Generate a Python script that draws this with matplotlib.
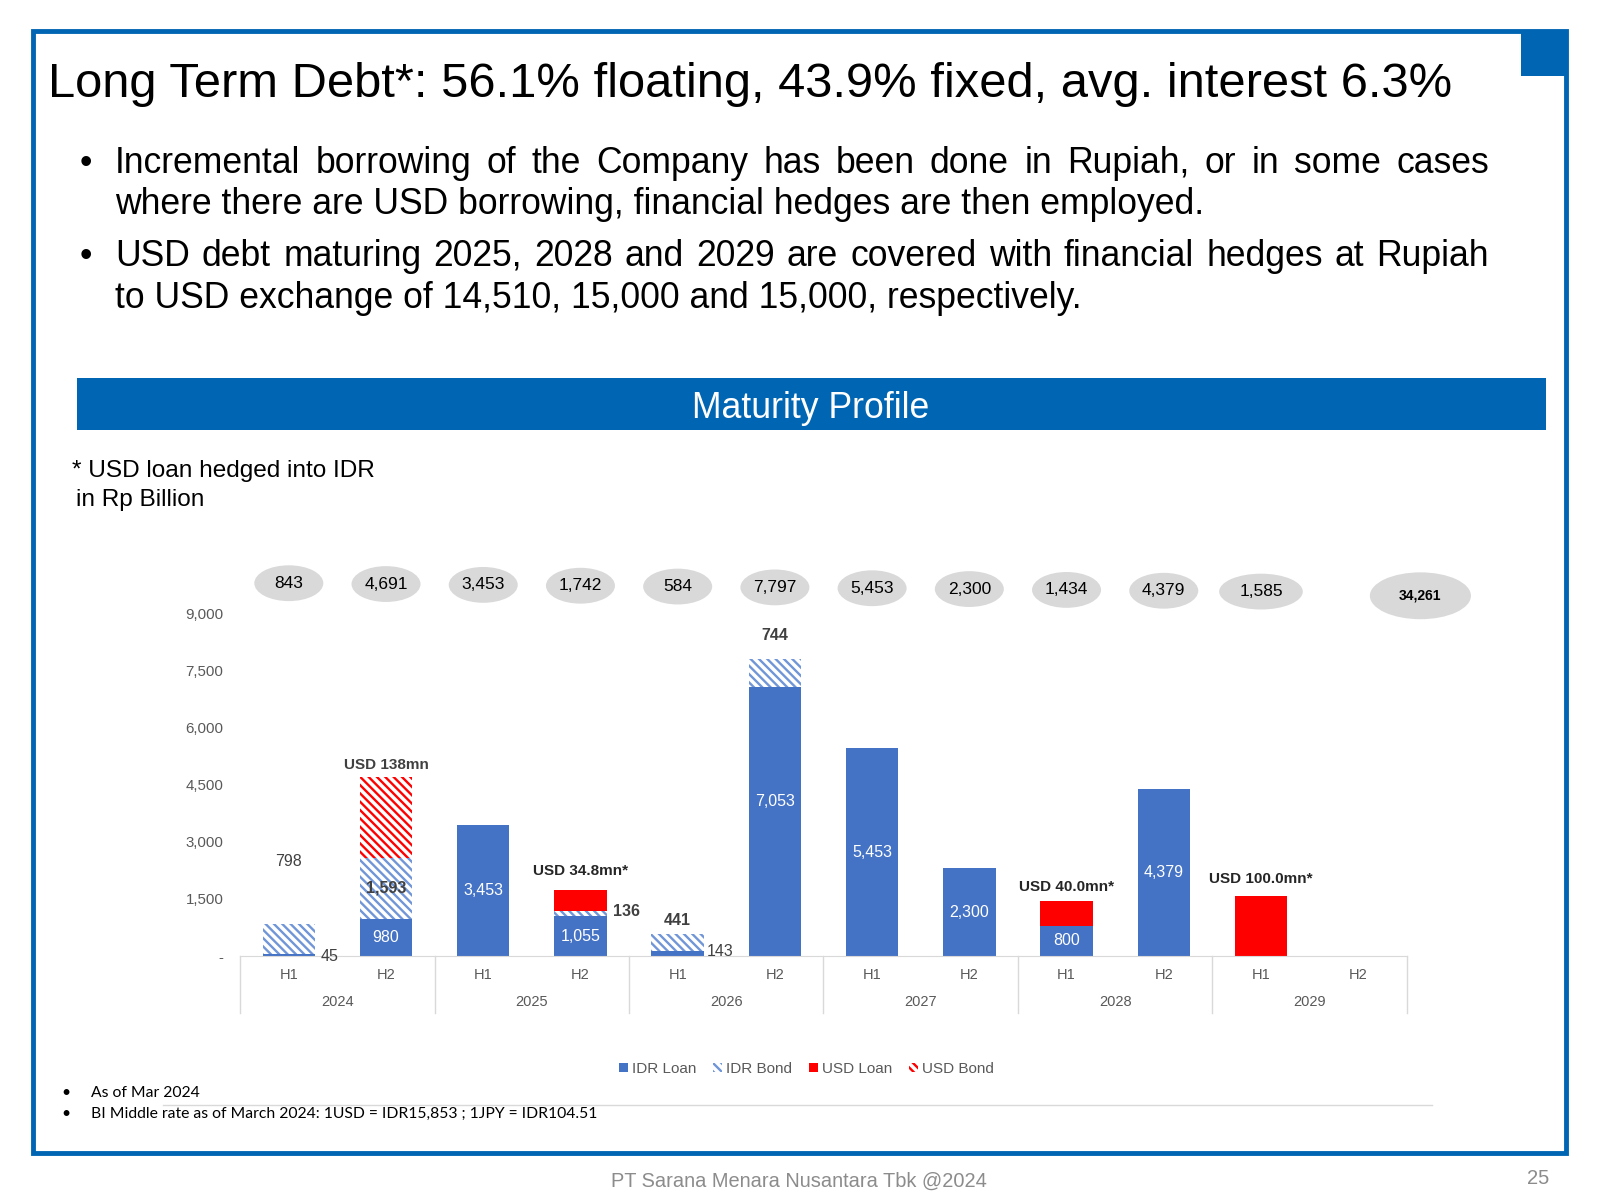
import numpy as np
import matplotlib.pyplot as plt
import matplotlib.transforms as mtransforms
from matplotlib.patches import Rectangle, Ellipse, Patch

plt.rcParams['font.family'] = ['Liberation Sans', 'DejaVu Sans']
plt.rcParams['hatch.linewidth'] = 1.7

# data (Rp billion)
years = ['2024', '2025', '2026', '2027', '2028', '2029']
halves = ['H1', 'H2']
idr_loan = [45, 980, 3453, 1055, 143, 7053, 5453, 2300, 800, 4379, 0, 0]
idr_bond = [798, 1593, 0, 136, 441, 744, 0, 0, 0, 0, 0, 0]
usd_loan = [0, 0, 0, 551, 0, 0, 0, 0, 634, 0, 1585, 0]
usd_bond = [0, 2118, 0, 0, 0, 0, 0, 0, 0, 0, 0, 0]
usd_notes = {1: 'USD 138mn', 3: 'USD 34.8mn*', 8: 'USD 40.0mn*', 10: 'USD 100.0mn*'}
yticks = [0, 1500, 3000, 4500, 6000, 7500, 9000]

title = 'Long Term Debt*: 56.1% floating, 43.9% fixed, avg. interest 6.3%'
bullets = [
    ['Incremental borrowing of the Company has been done in Rupiah, or in some cases',
     'where there are USD borrowing, financial hedges are then employed.'],
    ['USD debt maturing 2025, 2028 and 2029 are covered with financial hedges at Rupiah',
     'to USD exchange of 14,510, 15,000 and 15,000, respectively.'],
]
notes = ['As of Mar 2024',
         'BI Middle rate as of March 2024: 1USD = IDR15,853 ; 1JPY = IDR104.51']

BLUE = '#0066B3'
LOAN = '#4472C4'
BOND = '#7096D8'
RED = '#FF0000'
GREY = '#595959'
HATCH = '\\\\\\\\'

W, H = 1600, 1200
fig = plt.figure(figsize=(16, 12), dpi=100)


def fx(px):
    return px / W


def fy(py):
    return 1 - py / H


def justify(line, x0, x1, y, **kw):
    words = line.split()
    r = fig.canvas.get_renderer()
    objs = [fig.text(0, fy(y), w, va='baseline', **kw) for w in words]
    ws = [o.get_window_extent(r).width for o in objs]
    gap = (x1 - x0 - sum(ws)) / (len(words) - 1)
    pos = x0
    for o, w in zip(objs, ws):
        o.set_x(fx(pos))
        pos += w + gap


# slide frame
fig.patches.append(Rectangle((fx(33), fy(1153)), fx(1566) - fx(33), (1153 - 31) / H,
                             transform=fig.transFigure, fill=False, ec=BLUE, lw=3.5))
fig.patches.append(Rectangle((fx(1521), fy(76)), fx(45), 45 / H,
                             transform=fig.transFigure, color=BLUE, lw=0))

fig.text(fx(48), fy(97), title, fontsize=35.2, va='baseline')

ys = [173, 214, 266, 308]
k = 0
for para in bullets:
    fig.text(fx(80), fy(ys[k]), '•', fontsize=25.6, va='baseline')
    justify(para[0], 115, 1489, ys[k], fontsize=25.6)
    fig.text(fx(115), fy(ys[k + 1]), para[1], fontsize=25.6, va='baseline')
    k += 2

# banner
fig.patches.append(Rectangle((fx(77), fy(430)), fx(1546) - fx(77), 52 / H,
                             transform=fig.transFigure, color=BLUE, lw=0))
fig.text(fx(811), fy(408), 'Maturity Profile', fontsize=25.7, color='white',
         ha='center', va='center')

fig.text(fx(72), fy(471), '* USD loan hedged into IDR', fontsize=17.6, va='center')
fig.text(fx(76), fy(500), 'in Rp Billion', fontsize=17.6, va='center')

# chart
ax = fig.add_axes([fx(240.2), fy(956.1), fx(1406.8) - fx(240.2), (956.1 - 613.3) / H])
x = np.arange(len(idr_loan))
bw = 0.54
b1 = np.array(idr_loan)
b2 = b1 + np.array(idr_bond)
b3 = b2 + np.array(usd_loan)
total = b3 + np.array(usd_bond)

ax.bar(x, idr_loan, bw, color=LOAN, lw=0)
ax.bar(x, idr_bond, bw, bottom=b1, color='white', edgecolor=BOND, hatch=HATCH, lw=0)
ax.bar(x, usd_loan, bw, bottom=b2, color=RED, lw=0)
ax.bar(x, usd_bond, bw, bottom=b3, color='white', edgecolor=RED, hatch=HATCH, lw=0)

ax.set_xlim(-0.5, len(x) - 0.5)
ax.set_ylim(0, 9000)
ax.set_yticks(yticks, ['-' if v == 0 else f'{v:,}' for v in yticks])
ax.tick_params(axis='y', length=0, colors=GREY, labelsize=10.8, pad=12)
ax.set_xticks([])
for s in ['left', 'right', 'top']:
    ax.spines[s].set_visible(False)
ax.spines['bottom'].set_color('#D9D9D9')

bt = mtransforms.blended_transform_factory(ax.transData, ax.transAxes)
for i in range(len(x)):
    ax.text(i, -0.054, halves[i % 2], transform=bt, ha='center', va='center',
            fontsize=10.5, color=GREY)
for j, yr in enumerate(years):
    ax.text(2 * j + 0.5, -0.134, yr, transform=bt, ha='center', va='center',
            fontsize=10.5, color=GREY)
for j in range(len(years) + 1):
    ax.plot([2 * j - 0.5] * 2, [0, -0.165], transform=bt, clip_on=False,
            color='#D9D9D9', lw=1)

# value labels
white_y = {5: 4070}
for i in range(len(x)):
    if idr_loan[i] >= 500:
        ax.text(i, white_y.get(i, idr_loan[i] / 2), f'{idr_loan[i]:,}', ha='center',
                va='center', color='white', fontsize=11.5)
ax.text(0, 2490, f'{idr_bond[0]:,}', ha='center', va='center', color='#404040', fontsize=11.5)
ax.text(0 + bw / 2 + 0.06, 0, f'{idr_loan[0]:,}', ha='left', va='center',
        color='#404040', fontsize=11.5)
ax.text(4 + bw / 2 + 0.03, idr_loan[4] / 2 + 40, f'{idr_loan[4]:,}', ha='left', va='center',
        color='#404040', fontsize=11.5)
ax.text(1, b1[1] + idr_bond[1] / 2, f'{idr_bond[1]:,}', ha='center', va='center',
        color='#404040', fontsize=11.5, fontweight='bold')
ax.text(3 + bw / 2 + 0.06, b1[3] + idr_bond[3] / 2 + 40, f'{idr_bond[3]:,}', ha='left',
        va='center', color='#404040', fontsize=11.5, fontweight='bold')
for i, off in [(4, 13), (5, 24)]:
    ax.annotate(f'{idr_bond[i]:,}', (i, b2[i]), xytext=(0, off), textcoords='offset pixels',
                ha='center', va='center', color='#404040', fontsize=11.5, fontweight='bold')
for i, off in [(1, 12), (3, 19), (8, 14), (10, 17)]:
    ax.annotate(usd_notes[i], (i, total[i]), xytext=(0, off), textcoords='offset pixels',
                ha='center', va='center', color='#262626' if i > 1 else '#404040',
                fontsize=11, fontweight='bold')

# totals in bubbles
for i in range(len(x) - 1):
    yc = 9790 - 22 * i
    wd = 0.86 if i == 10 else 0.71
    ax.add_patch(Ellipse((i, yc), wd, 940, color='#D9D9D9', lw=0, clip_on=False))
    ax.text(i, yc, f'{total[i]:,}', ha='center', va='center', fontsize=12.5, color='black')
ax.add_patch(Ellipse((11.64, 9460), 1.04, 1230, color='#D9D9D9', lw=0, clip_on=False))
ax.text(11.64, 9460, f'{total.sum():,}', ha='center', va='center', fontsize=10,
        fontweight='bold', color='black')

handles = [Patch(facecolor=LOAN, lw=0),
           Patch(facecolor='white', edgecolor=BOND, hatch=HATCH, lw=0),
           Patch(facecolor=RED, lw=0),
           Patch(facecolor='white', edgecolor=RED, hatch=HATCH, lw=0)]
fig.legend(handles, ['IDR Loan', 'IDR Bond', 'USD Loan', 'USD Bond'], loc='center',
           bbox_to_anchor=(fx(806), fy(1069)), ncol=4, frameon=False, fontsize=11,
           labelcolor=GREY, handlelength=0.6, handleheight=0.6, handletextpad=0.25,
           columnspacing=1.1)

# footnotes
fig.add_artist(plt.Line2D([fx(163), fx(1432)], [fy(1105), fy(1105)], color='#D9D9D9', lw=1))
for k, n in enumerate(notes):
    yy = 1093 + 21 * k
    fig.text(fx(61), fy(yy), '•', fontsize=11.3, va='center', family='Lato')
    fig.text(fx(91), fy(yy), n, fontsize=11.3, va='center', family='Lato')

fig.text(fx(799), fy(1181), 'PT Sarana Menara Nusantara Tbk @2024', fontsize=14.4,
         color='#8C8C8C', ha='center', va='center')
fig.text(fx(1549), fy(1179), '25', fontsize=14.5, color='#8C8C8C', ha='right', va='center')

fig.savefig('out.png', dpi=100)
